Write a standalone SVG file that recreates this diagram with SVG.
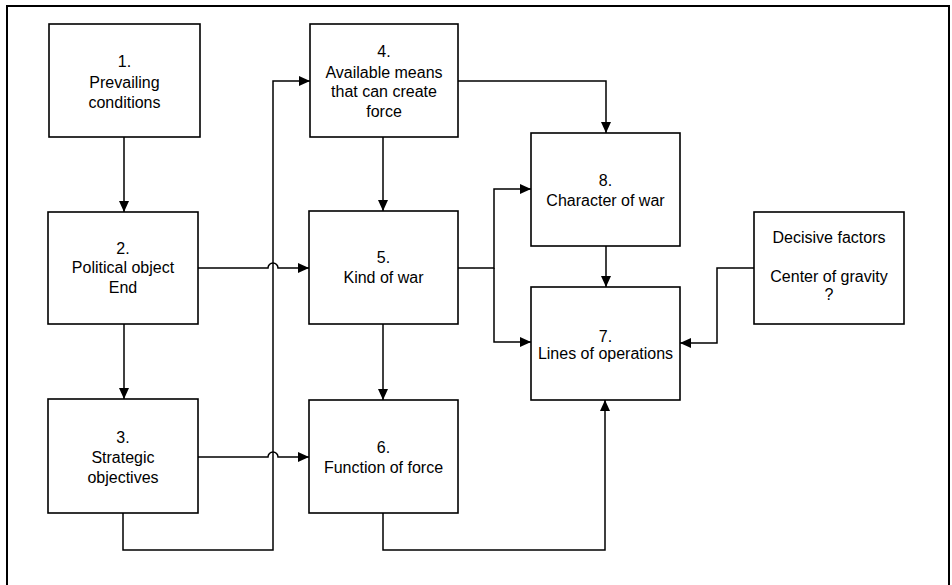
<svg xmlns="http://www.w3.org/2000/svg" width="952" height="585" viewBox="0 0 952 585">
<defs>
<marker id="arr" markerUnits="userSpaceOnUse" markerWidth="12" markerHeight="10" refX="11" refY="5" orient="auto">
<path d="M0,0 L11,5 L0,10 z" fill="#000"/>
</marker>
<style>
.box{fill:#fff;stroke:#000;stroke-width:1.6}
.t{font-family:"Liberation Sans",Arial,Helvetica,sans-serif;font-size:16px;fill:#000;text-anchor:middle}
.c{fill:none;stroke:#000;stroke-width:1.5}
.frame{fill:none;stroke:#000;stroke-width:2}
</style>
</defs>
<rect width="952" height="585" fill="#fff"/>
<path class="frame" d="M7,600 V6 H949 V600"/>
<g id="connectors">
<path class="c" d="M124,137 V212" marker-end="url(#arr)"/>
<path class="c" d="M124,324 V399" marker-end="url(#arr)"/>
<path class="c" d="M123,513 V550 H273 V81 H310" marker-end="url(#arr)"/>
<path class="c" d="M198,268 H268 A5,5 0 0 1 278,268 H309" marker-end="url(#arr)"/>
<path class="c" d="M198,457 H268 A5,5 0 0 1 278,457 H309" marker-end="url(#arr)"/>
<path class="c" d="M383,137 V211" marker-end="url(#arr)"/>
<path class="c" d="M383,324 V400" marker-end="url(#arr)"/>
<path class="c" d="M458,81 H606 V133" marker-end="url(#arr)"/>
<path class="c" d="M458,268 H494 V189 H531" marker-end="url(#arr)"/>
<path class="c" d="M494,268 V342 H531" marker-end="url(#arr)"/>
<path class="c" d="M606,246 V287" marker-end="url(#arr)"/>
<path class="c" d="M754,268 H717 V343 H680" marker-end="url(#arr)"/>
<path class="c" d="M383,513 V550 H605 V400" marker-end="url(#arr)"/>
</g>
<g id="n1">
<rect class="box" x="49" y="24" width="151" height="113"/>
<text class="t" x="124.5" y="67">1.</text>
<text class="t" x="124.5" y="88">Prevailing</text>
<text class="t" x="124.5" y="108">conditions</text>
</g>
<g id="n2">
<rect class="box" x="48" y="212" width="150" height="112"/>
<text class="t" x="123" y="254">2.</text>
<text class="t" x="123" y="273">Political object</text>
<text class="t" x="123" y="293">End</text>
</g>
<g id="n3">
<rect class="box" x="48" y="399" width="150" height="114"/>
<text class="t" x="123" y="443">3.</text>
<text class="t" x="123" y="463">Strategic</text>
<text class="t" x="123" y="483">objectives</text>
</g>
<g id="n4">
<rect class="box" x="310" y="24" width="148" height="113"/>
<text class="t" x="384" y="57">4.</text>
<text class="t" x="384" y="78">Available means</text>
<text class="t" x="384" y="97">that can create</text>
<text class="t" x="384" y="117">force</text>
</g>
<g id="n5">
<rect class="box" x="309" y="211" width="149" height="113"/>
<text class="t" x="383.5" y="263">5.</text>
<text class="t" x="383.5" y="283">Kind of war</text>
</g>
<g id="n6">
<rect class="box" x="309" y="400" width="149" height="113"/>
<text class="t" x="383.5" y="453">6.</text>
<text class="t" x="383.5" y="473">Function of force</text>
</g>
<g id="n8">
<rect class="box" x="531" y="133" width="149" height="113"/>
<text class="t" x="605.5" y="186">8.</text>
<text class="t" x="605.5" y="206">Character of war</text>
</g>
<g id="n7">
<rect class="box" x="531" y="287" width="149" height="113"/>
<text class="t" x="605.5" y="342">7.</text>
<text class="t" x="605.5" y="359">Lines of operations</text>
</g>
<g id="n9">
<rect class="box" x="754" y="212" width="150" height="112"/>
<text class="t" x="829" y="243">Decisive factors</text>
<text class="t" x="829" y="282">Center of gravity</text>
<text class="t" x="829" y="300">?</text>
</g>
</svg>
